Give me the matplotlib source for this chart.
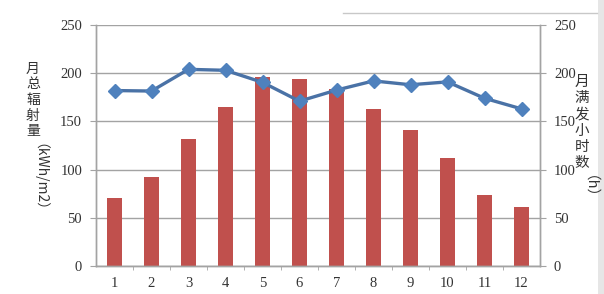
import matplotlib
matplotlib.use("Agg")
import matplotlib.pyplot as plt
from matplotlib.lines import Line2D
from matplotlib.patches import Rectangle

months = [1, 2, 3, 4, 5, 6, 7, 8, 9, 10, 11, 12]
radiation = [71, 92, 132, 165, 196, 194, 184, 163, 141, 112, 74, 61]   # kWh/m2
full_hours = [182, 181.5, 204, 203, 190.5, 171, 182.5, 192, 188, 191, 174, 163]  # h
y_ticks = [0, 50, 100, 150, 200, 250]

left_label = "月总辐射量"
left_unit = "（kWh/m2）"
right_label = "月满发小时数"
right_unit = "（h）"

W, H = 604, 294
fig = plt.figure(figsize=(W / 100, H / 100), dpi=100)
ax = fig.add_axes([96 / W, 28 / H, 444 / W, 241 / H])
ax2 = ax.twinx()

grid_c = "#A3A3A3"
bar_c = "#C0504D"
line_c = "#4F81BD"

ax.bar(months, radiation, width=0.4, color=bar_c, zorder=2)
ax2.plot(months, full_hours, color="#4A72A6", lw=2.4, marker="D", ms=7,
         mfc=line_c, mec=line_c, zorder=3)

for a in (ax, ax2):
    a.set_ylim(0, 250)
    a.set_yticks(y_ticks)
    a.set_xlim(0.5, 12.5)
    for s in a.spines.values():
        s.set_color(grid_c)
        s.set_linewidth(1)
    a.spines["top"].set_visible(False)
    a.tick_params(axis="y", length=4, color=grid_c, labelsize=10.5, pad=6)
    for lab in a.get_yticklabels():
        lab.set_fontfamily("Liberation Serif")
        lab.set_color("#333333")

ax.set_zorder(ax2.get_zorder() - 1)
ax2.patch.set_visible(False)
ax.yaxis.grid(True, color=grid_c, lw=1, zorder=0)
ax.set_axisbelow(True)

ax.set_xticks(months)
ax.set_xticklabels([str(m) for m in months], fontfamily="Liberation Serif",
                   fontsize=10.5, color="#333333")
ax.tick_params(axis="x", length=0, pad=8)
ax.set_xticks([m + 0.5 for m in months[:-1]], minor=True)
ax.tick_params(axis="x", which="minor", length=3, color=grid_c)
ax2.tick_params(axis="x", length=0)

# stacked vertical axis titles
cjk = ["Noto Sans CJK SC", "DejaVu Sans"]
for i, ch in enumerate(left_label):
    fig.text(33 / W, 1 - (69 + i * 15.5) / H, ch, ha="center", va="center",
             fontsize=10, family=cjk, color="#333333")
fig.text(33 / W, 1 - 184 / H, left_unit, ha="center", va="center", rotation=-90,
         fontsize=10, family=cjk, color="#333333")
for i, ch in enumerate(right_label):
    fig.text(582 / W, 1 - (82 + i * 16.3) / H, ch, ha="center", va="center",
             fontsize=10.5, family=cjk, color="#333333")
fig.text(582 / W, 1 - 194 / H, right_unit, ha="center", va="center", rotation=-90,
         fontsize=10.5, family=cjk, color="#333333")

# decorative line and border strip of the original image
fig.add_artist(Line2D([343 / W, 597 / W], [1 - 13 / H] * 2, color="#C8C8C8", lw=1))
fig.add_artist(Rectangle((598 / W, 0), 6 / W, 1, color="#E6E6E6", lw=0))

fig.savefig("out.png", dpi=100)
